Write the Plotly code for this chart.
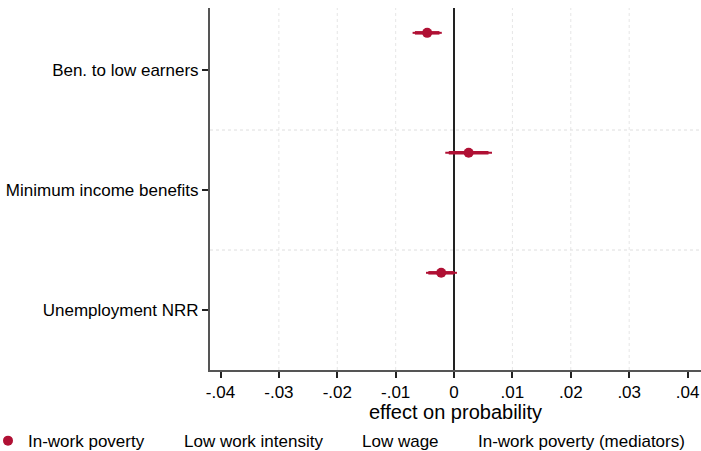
import plotly.graph_objects as go

# Coefficient estimates (effect on probability) with 95% and 90% intervals
categories = ["Ben. to low earners", "Minimum income benefits", "Unemployment NRR"]
coef = [-0.0046, 0.0025, -0.0022]
ci95_lo = [-0.0071, -0.0015, -0.0048]
ci95_hi = [-0.0021, 0.0065, 0.0005]
ci90_lo = [-0.0067, -0.0009, -0.0044]
ci90_hi = [-0.0025, 0.0059, 0.0000]

series_names = ["In-work poverty", "Low work intensity", "Low wage", "In-work poverty (mediators)"]

x_ticks = [-0.04, -0.03, -0.02, -0.01, 0, 0.01, 0.02, 0.03, 0.04]
x_ticktext = ["-.04", "-.03", "-.02", "-.01", "0", ".01", ".02", ".03", ".04"]
grid_vals = [-0.03, -0.02, -0.01, 0.01, 0.02, 0.03]

RED = "rgb(176,16,52)"
FONT = "Liberation Sans, Arial, sans-serif"
W, H = 701, 451
ML, MR = 210, 0
PLOT_W = W - ML - MR

# first model sits in the upper part of each category slot
offset = -0.31
ypos = [i + 1 + offset for i in range(len(categories))]

fig = go.Figure()

# 95% interval (thin)
fig.add_trace(go.Scatter(
    x=coef, y=ypos, mode="markers",
    marker=dict(size=0.1, color="rgba(0,0,0,0)"),
    error_x=dict(type="data", symmetric=False,
                 array=[h - c for h, c in zip(ci95_hi, coef)],
                 arrayminus=[c - l for l, c in zip(ci95_lo, coef)],
                 color=RED, thickness=2, width=0),
    showlegend=False, hoverinfo="skip"))

# 90% interval (thick)
fig.add_trace(go.Scatter(
    x=coef, y=ypos, mode="markers",
    marker=dict(size=0.1, color="rgba(0,0,0,0)"),
    error_x=dict(type="data", symmetric=False,
                 array=[h - c for h, c in zip(ci90_hi, coef)],
                 arrayminus=[c - l for l, c in zip(ci90_lo, coef)],
                 color=RED, thickness=3.5, width=0),
    showlegend=False, hoverinfo="skip"))

# point estimates
fig.add_trace(go.Scatter(
    x=coef, y=ypos, mode="markers", name=series_names[0],
    marker=dict(size=10, color=RED), legend="legend"))

# remaining models have no estimates for these variables
legend_ids = ["legend", "legend2", "legend3", "legend4"]
for name, lid in zip(series_names[1:], legend_ids[1:]):
    fig.add_trace(go.Scatter(x=[None], y=[None], mode="markers", name=name,
                             marker=dict(size=10, color="rgba(0,0,0,0)"), legend=lid))

shapes = []
for g in grid_vals:
    shapes.append(dict(type="line", xref="x", yref="paper", x0=g, x1=g, y0=0, y1=1,
                       line=dict(color="#e6e6e6", width=1, dash="3px,3px"), layer="below"))
for k in range(1, len(categories)):
    shapes.append(dict(type="line", xref="paper", yref="y", x0=0, x1=1, y0=k + 0.5, y1=k + 0.5,
                       line=dict(color="#dedede", width=1, dash="dot"), layer="below"))

# legend entries laid out in one row along the bottom (text start, px)
legend_text_x = [28, 184, 362, 478]
legend_layout = {}
for lid, tx in zip(legend_ids, legend_text_x):
    # the first box sits at the page edge, so its entry is pulled left by indentation
    indent = min(0, tx - 40)
    x_px = tx - 40 - indent
    legend_layout[lid] = dict(
        orientation="h", xref="paper", yref="container",
        x=(x_px - ML) / PLOT_W, y=0.022, xanchor="left", yanchor="middle",
        indentation=indent,
        font=dict(size=17), bgcolor="rgba(0,0,0,0)", itemclick=False)

fig.update_layout(
    width=W, height=H,
    margin=dict(l=ML, r=MR, t=8, b=81),
    paper_bgcolor="white", plot_bgcolor="white",
    font=dict(family=FONT, size=17, color="black"),
    shapes=shapes,
    showlegend=True,
    xaxis=dict(range=[-0.0418, 0.0423], tickvals=x_ticks, ticktext=x_ticktext,
               showgrid=False, zeroline=True, zerolinecolor="#222", zerolinewidth=2,
               showline=True, linecolor="#555", linewidth=2,
               ticks="outside", ticklen=6, tickcolor="#222", tickwidth=1.5,
               title=dict(text="effect on probability", standoff=33),
               automargin=False),
    yaxis=dict(range=[3.5, 0.483], tickvals=[1, 2, 3], ticktext=categories,
               showgrid=False, zeroline=False,
               showline=True, linecolor="#555", linewidth=2,
               ticks="outside", ticklen=6, tickcolor="#222", tickwidth=1.5,
               automargin=False),
    **legend_layout,
)

fig.write_html("out.html")
